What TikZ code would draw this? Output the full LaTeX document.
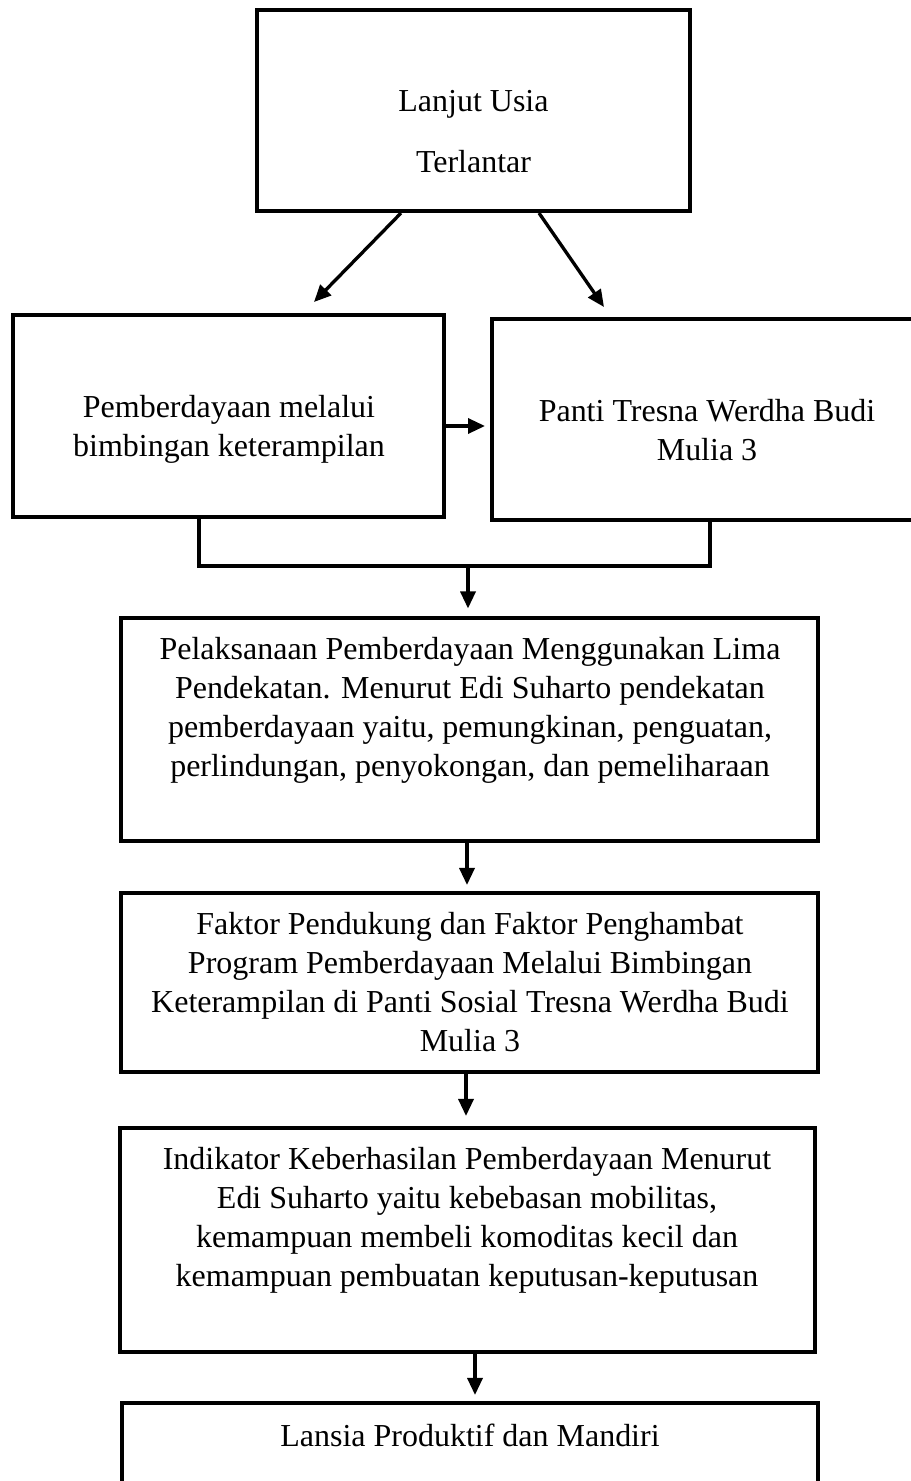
\documentclass[tikz,border=0pt]{standalone}
\usepackage{fontspec}
\setmainfont{Liberation Serif}
\usetikzlibrary{arrows.meta, positioning}
\tikzset{
  kotak/.style = {rectangle, draw, line width=2.3pt, inner sep=0pt},
  teks/.style = {align=center, inner sep=0pt, font=\fontsize{18.2}{22.2}\selectfont},
  panah/.style = {line width=1.9pt, -{Triangle[length=0.34cm, width=0.3cm]}},
  garis/.style = {line width=2.1pt}
}

\begin{document}
\begin{tikzpicture}
        \useasboundingbox (0, 0) rectangle (18.22, -29.62);
        \clip (0, 0) rectangle (18.22, -29.62);

        \node[kotak, minimum width=8.66cm, minimum height=4.02cm] at (9.47, -2.21) (LanjutUsia) {};
        \node[teks, font=\fontsize{18.2}{34.7}\selectfont] at (9.47, -2.63) (LanjutUsiaText) {Lanjut Usia\\Terlantar};

        \node[kotak, minimum width=8.62cm, minimum height=4.04cm] at (4.57, -8.32) (Bimbingan) {};
        \node[teks] at (4.58, -8.59) (BimbinganText) {Pemberdayaan melalui\\bimbingan keterampilan};

        \node[kotak, minimum width=8.56cm, minimum height=4.02cm] at (14.12, -8.39) (Panti) {};
        \node[teks] at (14.14, -8.6) (PantiText) {Panti Tresna Werdha Budi\\Mulia 3};

        \node[kotak, minimum width=13.94cm, minimum height=4.46cm] at (9.39, -14.59) (Pelaksanaan) {};
        \node[teks] at (9.4, -14.2) (PelaksanaanText) {Pelaksanaan Pemberdayaan Menggunakan Lima\\Pendekatan. Menurut Edi Suharto pendekatan\\pemberdayaan yaitu, pemungkinan, penguatan,\\perlindungan, penyokongan, dan pemeliharaan};

        \node[kotak, minimum width=13.94cm, minimum height=3.58cm] at (9.39, -19.65) (Faktor) {};
        \node[teks] at (9.4, -19.65) (FaktorText) {Faktor Pendukung dan Faktor Penghambat\\Program Pemberdayaan Melalui Bimbingan\\Keterampilan di Panti Sosial Tresna Werdha Budi\\Mulia 3};

        \node[kotak, minimum width=13.9cm, minimum height=4.48cm] at (9.35, -24.8) (Indikator) {};
        \node[teks] at (9.34, -24.4) (IndikatorText) {Indikator Keberhasilan Pemberdayaan Menurut\\Edi Suharto yaitu kebebasan mobilitas,\\kemampuan membeli komoditas kecil dan\\kemampuan pembuatan keputusan-keputusan};

        \node[kotak, minimum width=13.92cm, minimum height=4.28cm] at (9.4, -30.2) (Mandiri) {};
        \node[teks] at (9.4, -28.7) (MandiriText) {Lansia Produktif dan Mandiri};

        % arrow ends and the joining bracket
        \coordinate (KiriUjung) at (6.28, -6.04);
        \coordinate (KananUjung) at (12.08, -6.14);
        \coordinate (TengahUjung) at (9.7, -8.52);
        \coordinate (SikuKiri) at (3.98, -11.32);
        \coordinate (SikuKanan) at (14.2, -11.32);
        \coordinate (Simpul) at (9.36, -11.32);

        \draw[panah] ([xshift=-1.45cm]LanjutUsia.south) -- (KiriUjung);
        \draw[panah] ([xshift=1.31cm]LanjutUsia.south) -- (KananUjung);
        \draw[panah] (Bimbingan.east |- TengahUjung) -- (TengahUjung);

        \draw[garis] (SikuKiri |- Bimbingan.south) -- (SikuKiri) -- (SikuKanan) -- (SikuKanan |- Panti.south);
        \draw[panah, shorten >=0.15cm] (Simpul) -- (Simpul |- Pelaksanaan.north);

        \draw[panah, shorten >=0.12cm] ([xshift=-0.05cm]Pelaksanaan.south) -- ([xshift=-0.05cm]Faktor.north);
        \draw[panah, shorten >=0.2cm] ([xshift=-0.07cm]Faktor.south) -- ([xshift=-0.07cm]Faktor.south |- Indikator.north);
        \draw[panah, shorten >=0.12cm] ([xshift=0.15cm]Indikator.south) -- ([xshift=0.15cm]Indikator.south |- Mandiri.north);
\end{tikzpicture}
\end{document}
